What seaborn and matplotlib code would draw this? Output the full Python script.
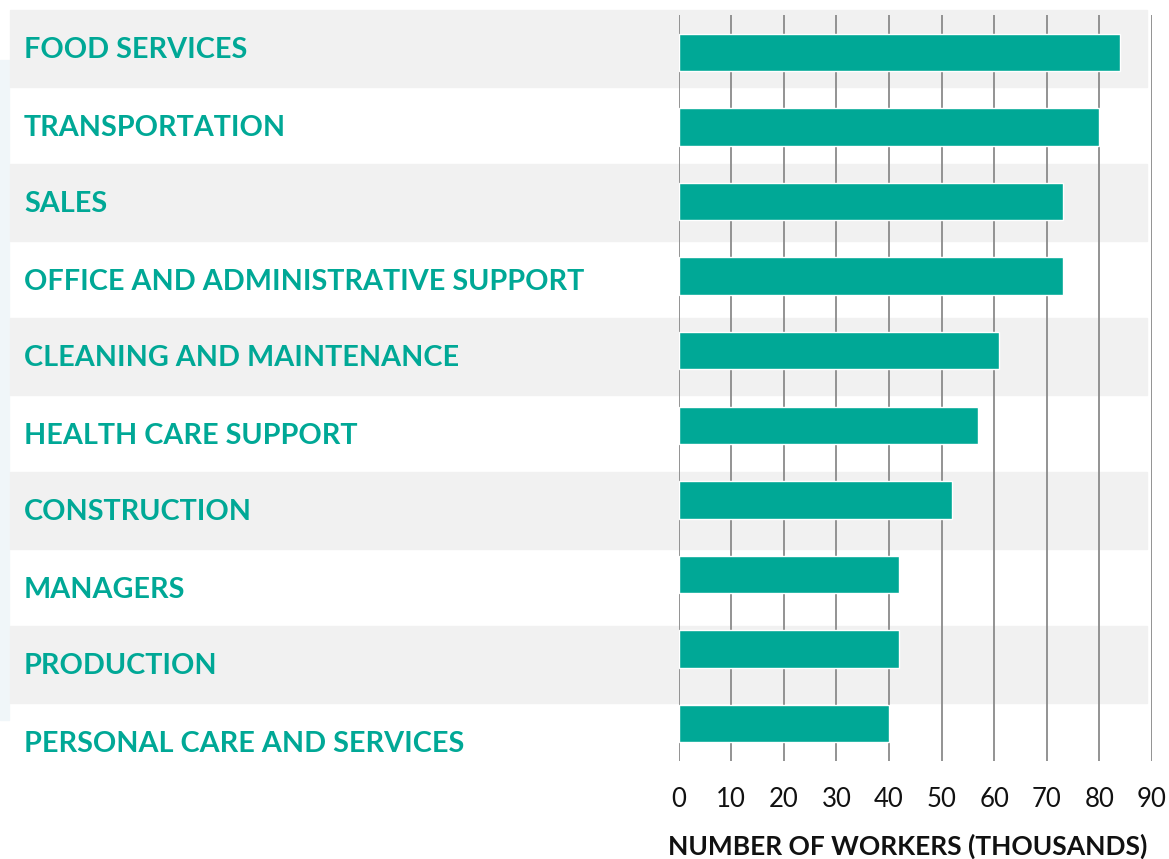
import matplotlib.pyplot as plt
import seaborn as sns
import pandas as pd
from matplotlib.patches import Rectangle

categories = [
    "FOOD SERVICES",
    "TRANSPORTATION",
    "SALES",
    "OFFICE AND ADMINISTRATIVE SUPPORT",
    "CLEANING AND MAINTENANCE",
    "HEALTH CARE SUPPORT",
    "CONSTRUCTION",
    "MANAGERS",
    "PRODUCTION",
    "PERSONAL CARE AND SERVICES",
]
workers = [84, 80, 73, 73, 61, 57, 52, 42, 42, 40]
xticks = [0, 10, 20, 30, 40, 50, 60, 70, 80, 90]

teal = "#00a896"
band_gray = "#f1f1f1"

sns.set_style("white")
plt.rcParams["font.family"] = ["Lato", "DejaVu Sans"]

W, H = 1169, 859
fig = plt.figure(figsize=(W / 100, H / 100), dpi=100)

# faint decoration on the far left
fig.patches.append(Rectangle((0, 1 - 720 / H), 9 / W, 660 / H,
                             transform=fig.transFigure, color="#f0f6f9",
                             zorder=-2))

# alternating row bands
for i in range(len(categories)):
    if i % 2 == 0:
        top = 10 + 77 * i
        fig.patches.append(Rectangle((10 / W, 1 - (top + 77) / H), 1137 / W, 77 / H,
                                     transform=fig.transFigure, color=band_gray,
                                     zorder=-1))

ax = fig.add_axes([678.5 / W, (H - 761) / H, 473.5 / W, 746 / H])
ax.set_facecolor("none")

df = pd.DataFrame({"category": categories, "workers": workers})
sns.barplot(data=df, x="workers", y="category", color=teal, saturation=1,
            width=0.5, ax=ax)

ax.set_xlim(0, 90)
ax.set_ylim(9.5, -0.5)
ax.set_xticks(xticks)
ax.set_axisbelow(True)
ax.grid(axis="x", color="#8a8a8a", linewidth=1.3)
ax.grid(axis="y", visible=False)
sns.despine(ax=ax, left=True, bottom=True)
ax.tick_params(axis="y", left=False, labelleft=False)
ax.tick_params(axis="x", length=0, pad=19, labelsize=18.5, colors="#111111")
ax.set_ylabel("")
ax.set_xlabel("NUMBER OF WORKERS (THOUSANDS)", fontsize=19, fontweight="bold",
              color="#111111")
ax.xaxis.set_label_coords(0.4836, -0.114)
ax.xaxis.label.set_va("center")

for i, cat in enumerate(categories):
    fig.text(24 / W, 1 - (50.5 + 77 * i) / H, cat, ha="left", va="center",
             color=teal, fontsize=20.7, fontweight="bold")

fig.savefig("out.png", dpi=100)
